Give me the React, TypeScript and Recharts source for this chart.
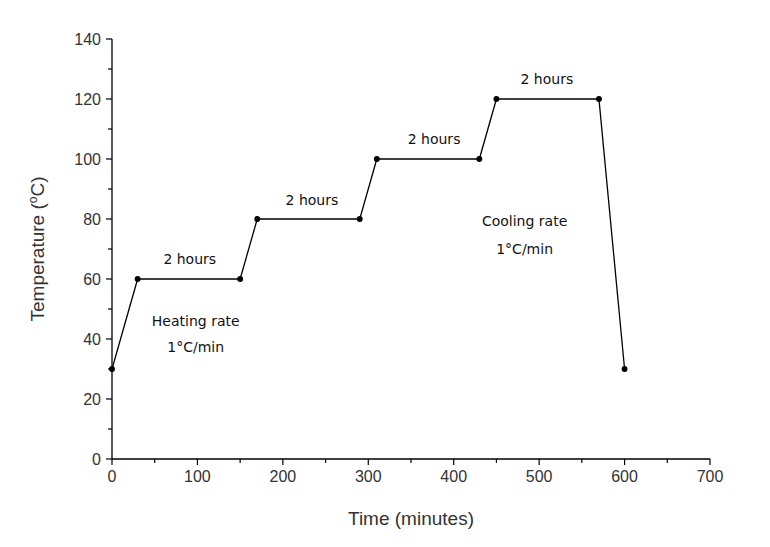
import React from 'react';
import { ComposedChart, Line, XAxis, YAxis, ReferenceDot } from 'recharts';

const times = [0, 30, 150, 170, 290, 310, 430, 450, 570, 600];
const temps = [30, 60, 60, 80, 80, 100, 100, 120, 120, 30];

const xTicks = [0, 50, 100, 150, 200, 250, 300, 350, 400, 450, 500, 550, 600, 650, 700];
const yTicks = [0, 10, 20, 30, 40, 50, 60, 70, 80, 90, 100, 110, 120, 130, 140];

const notes = [
  { x: 91, y: 66.7, text: '2 hours' },
  { x: 234, y: 86.3, text: '2 hours' },
  { x: 377, y: 106.7, text: '2 hours' },
  { x: 509, y: 126.7, text: '2 hours' },
  { x: 98, y: 46, text: 'Heating rate' },
  { x: 98, y: 37.3, text: '1°C/min' },
  { x: 483, y: 79.3, text: 'Cooling rate' },
  { x: 483, y: 70, text: '1°C/min' },
];

const data = times.map((t, i) => ({ t, temp: temps[i] }));

const tickFont = 'Liberation Sans, Arial, sans-serif';

const XTick = (props: any) => {
  const { x, y, payload } = props;
  const major = payload.value % 100 === 0;
  return (
    <g>
      <line x1={x} x2={x} y1={y} y2={y + (major ? 6 : 4)} stroke="#000" strokeWidth={1.2} />
      {major && (
        <text x={x} y={y + 23} textAnchor="middle" fontSize={16} fill="#333" fontFamily={tickFont}>
          {payload.value}
        </text>
      )}
    </g>
  );
};

const YTick = (props: any) => {
  const { x, y, payload } = props;
  const major = payload.value % 20 === 0;
  return (
    <g>
      <line x1={x} x2={x - (major ? 6 : 4)} y1={y} y2={y} stroke="#000" strokeWidth={1.2} />
      {major && (
        <text x={x - 11} y={y + 6} textAnchor="end" fontSize={16} fill="#333" fontFamily={tickFont}>
          {payload.value}
        </text>
      )}
    </g>
  );
};

const YTitle = () => (
  <text
    x={44}
    y={249}
    transform="rotate(-90 44 249)"
    textAnchor="middle"
    fontSize={19}
    fill="#333"
    fontFamily={tickFont}
  >
    Temperature (<tspan fontSize={12} dy={-7}>o</tspan>
    <tspan dy={7}>C)</tspan>
  </text>
);

const App = () => {
  return (
    <div style={{ position: 'absolute', left: 0, top: 0, background: '#fff' }}>
      <ComposedChart width={770} height={547} data={data} margin={{ top: 39, right: 60, bottom: 0, left: 0 }}>
        <XAxis
          dataKey="t"
          type="number"
          domain={[0, 700]}
          ticks={xTicks}
          interval={0}
          tickSize={0}
          tickMargin={0}
          tickLine={false}
          tick={<XTick />}
          axisLine={{ stroke: '#000', strokeWidth: 1.3 }}
          height={88}
          label={{
            value: 'Time (minutes)',
            position: 'insideBottom',
            offset: 22,
            fontSize: 19,
            fill: '#333',
            fontFamily: tickFont,
          }}
        />
        <YAxis
          type="number"
          domain={[0, 140]}
          ticks={yTicks}
          interval={0}
          width={112}
          tickSize={0}
          tickMargin={0}
          tickLine={false}
          tick={<YTick />}
          axisLine={{ stroke: '#000', strokeWidth: 1.3 }}
          label={<YTitle />}
        />
        <Line
          dataKey="temp"
          stroke="#000"
          strokeWidth={1.3}
          isAnimationActive={false}
          dot={{ r: 2.3, fill: '#000', stroke: '#000' }}
        />
        {notes.map((n, i) => (
          <ReferenceDot
            key={i}
            x={n.x}
            y={n.y}
            r={0}
            ifOverflow="visible"
            label={{ value: n.text, position: 'center', fontSize: 14, fill: '#111', fontFamily: 'DejaVu Sans, sans-serif' }}
          />
        ))}
      </ComposedChart>
    </div>
  );
};

export default App;
